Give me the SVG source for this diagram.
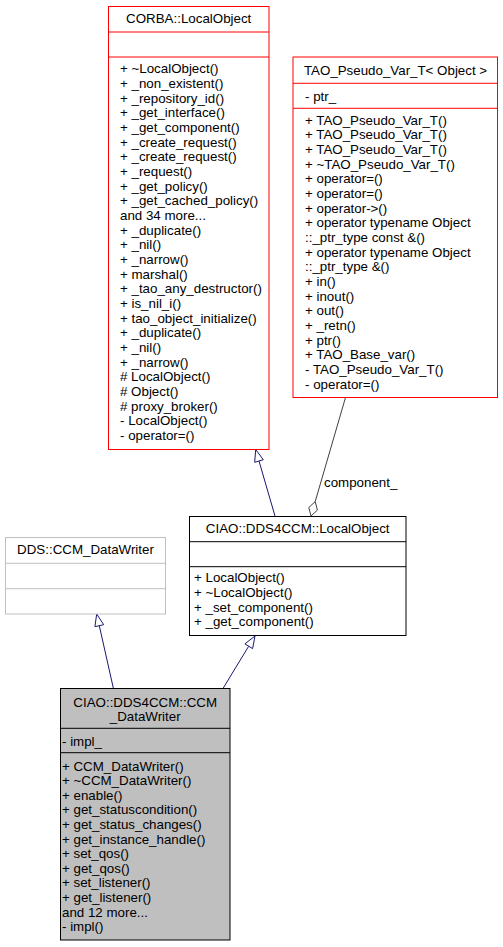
<svg xmlns="http://www.w3.org/2000/svg" width="503" height="947" viewBox="0 0 503 947">
<style>
text{font-family:"Liberation Sans",Arial,Helvetica,sans-serif;font-size:13.33px;fill:#000}
.t{text-anchor:middle}
.red{fill:#fff;stroke:#ff0000;stroke-width:1}
.blk{fill:#fff;stroke:#000;stroke-width:1}
.gry{fill:#fff;stroke:#bfbfbf;stroke-width:1}
.sel{fill:#bfbfbf;stroke:#000;stroke-width:1}
.inh{fill:none;stroke:#191970;stroke-width:1}
.inhh{fill:#fff;stroke:#191970;stroke-width:1}
.cmp{fill:none;stroke:#404040;stroke-width:1}
.cmph{fill:#fff;stroke:#404040;stroke-width:1}
</style>
<rect width="503" height="947" fill="#fff"/>
<g id="connectors">
  <path class="inh" d="M275,516 L259,461"/>
  <polygon class="inhh" points="255.7,449.5 263.3,459.7 254.7,462.3"/>
  <path class="inh" d="M113.3,688 L99.3,625.7"/>
  <polygon class="inhh" points="96.7,614 103.7,624.7 94.9,626.7"/>
  <path class="inh" d="M223.3,688 L248.7,646.2"/>
  <polygon class="inhh" points="255,636 252.6,648.6 244.9,643.9"/>
  <path class="cmp" d="M345.5,397.5 L315.2,501.6"/>
  <polygon class="cmph" points="311,516 308.8,507.5 315.2,501.6 317.4,510.1"/>
  <text x="324" y="486.5">component_</text>
</g>
<g id="corba_localobject">
  <rect class="red" x="108.5" y="6.5" width="160.5" height="443"/>
  <line class="red" x1="108.5" y1="32" x2="269" y2="32"/>
  <line class="red" x1="108.5" y1="57" x2="269" y2="57"/>
  <text class="t" x="188.7" y="23.3">CORBA::LocalObject</text>
  <text x="120" y="73.3">+ ~LocalObject()</text>
  <text x="120" y="88">+ _non_existent()</text>
  <text x="120" y="102.6">+ _repository_id()</text>
  <text x="120" y="117.3">+ _get_interface()</text>
  <text x="120" y="132">+ _get_component()</text>
  <text x="120" y="146.6">+ _create_request()</text>
  <text x="120" y="161.3">+ _create_request()</text>
  <text x="120" y="176">+ _request()</text>
  <text x="120" y="190.7">+ _get_policy()</text>
  <text x="120" y="205.3">+ _get_cached_policy()</text>
  <text x="120" y="220">and 34 more...</text>
  <text x="120" y="234.7">+ _duplicate()</text>
  <text x="120" y="249.3">+ _nil()</text>
  <text x="120" y="264">+ _narrow()</text>
  <text x="120" y="278.7">+ marshal()</text>
  <text x="120" y="293.3">+ _tao_any_destructor()</text>
  <text x="120" y="308">+ is_nil_i()</text>
  <text x="120" y="322.7">+ tao_object_initialize()</text>
  <text x="120" y="337.3">+ _duplicate()</text>
  <text x="120" y="352">+ _nil()</text>
  <text x="120" y="366.7">+ _narrow()</text>
  <text x="120" y="381.3"># LocalObject()</text>
  <text x="120" y="396"># Object()</text>
  <text x="120" y="410.7"># proxy_broker()</text>
  <text x="120" y="425.3">- LocalObject()</text>
  <text x="120" y="440">- operator=()</text>
</g>
<g id="tao_pseudo_var_t">
  <rect class="red" x="293" y="57" width="204.5" height="340.5"/>
  <line class="red" x1="293" y1="83.3" x2="497.5" y2="83.3"/>
  <line class="red" x1="293" y1="108.3" x2="497.5" y2="108.3"/>
  <text class="t" x="395.5" y="74.8">TAO_Pseudo_Var_T&lt; Object &gt;</text>
  <text x="305" y="100.5">- ptr_</text>
  <text x="305" y="124.5">+ TAO_Pseudo_Var_T()</text>
  <text x="305" y="139.2">+ TAO_Pseudo_Var_T()</text>
  <text x="305" y="153.8">+ TAO_Pseudo_Var_T()</text>
  <text x="305" y="168.5">+ ~TAO_Pseudo_Var_T()</text>
  <text x="305" y="183.2">+ operator=()</text>
  <text x="305" y="197.8">+ operator=()</text>
  <text x="305" y="212.5">+ operator-&gt;()</text>
  <text x="305" y="227.2">+ operator typename Object</text>
  <text x="305" y="241.9">::_ptr_type const &amp;()</text>
  <text x="305" y="256.5">+ operator typename Object</text>
  <text x="305" y="271.2">::_ptr_type &amp;()</text>
  <text x="305" y="285.9">+ in()</text>
  <text x="305" y="300.5">+ inout()</text>
  <text x="305" y="315.2">+ out()</text>
  <text x="305" y="329.9">+ _retn()</text>
  <text x="305" y="344.5">+ ptr()</text>
  <text x="305" y="359.2">+ TAO_Base_var()</text>
  <text x="305" y="373.9">- TAO_Pseudo_Var_T()</text>
  <text x="305" y="388.5">- operator=()</text>
</g>
<g id="ciao_localobject">
  <rect class="blk" x="189.5" y="516.5" width="216.5" height="119"/>
  <line class="blk" x1="189.5" y1="541.7" x2="406" y2="541.7"/>
  <line class="blk" x1="189.5" y1="566.7" x2="406" y2="566.7"/>
  <text class="t" x="297.7" y="533.3">CIAO::DDS4CCM::LocalObject</text>
  <text x="194" y="582.3">+ LocalObject()</text>
  <text x="194" y="597">+ ~LocalObject()</text>
  <text x="194" y="611.7">+ _set_component()</text>
  <text x="194" y="626.3">+ _get_component()</text>
</g>
<g id="dds_ccm_datawriter">
  <rect class="gry" x="5.5" y="537.5" width="160" height="76.5"/>
  <line class="gry" x1="5.5" y1="563.3" x2="165.5" y2="563.3"/>
  <line class="gry" x1="5.5" y1="588.7" x2="165.5" y2="588.7"/>
  <text class="t" x="85.5" y="554">DDS::CCM_DataWriter</text>
</g>
<g id="ciao_ccm_datawriter">
  <rect class="sel" x="60.5" y="688.5" width="169.5" height="251.5"/>
  <line class="blk" x1="60.5" y1="728.3" x2="230" y2="728.3"/>
  <line class="blk" x1="60.5" y1="752.7" x2="230" y2="752.7"/>
  <text class="t" x="145.2" y="706.7">CIAO::DDS4CCM::CCM</text>
  <text class="t" x="145.2" y="720.5">_DataWriter</text>
  <text x="62" y="746">- impl_</text>
  <text x="62" y="770.5">+ CCM_DataWriter()</text>
  <text x="62" y="785.1">+ ~CCM_DataWriter()</text>
  <text x="62" y="799.7">+ enable()</text>
  <text x="62" y="814.3">+ get_statuscondition()</text>
  <text x="62" y="828.9">+ get_status_changes()</text>
  <text x="62" y="843.5">+ get_instance_handle()</text>
  <text x="62" y="858.1">+ set_qos()</text>
  <text x="62" y="872.7">+ get_qos()</text>
  <text x="62" y="887.3">+ set_listener()</text>
  <text x="62" y="901.9">+ get_listener()</text>
  <text x="62" y="916.5">and 12 more...</text>
  <text x="62" y="931.1">- impl()</text>
</g>
</svg>
